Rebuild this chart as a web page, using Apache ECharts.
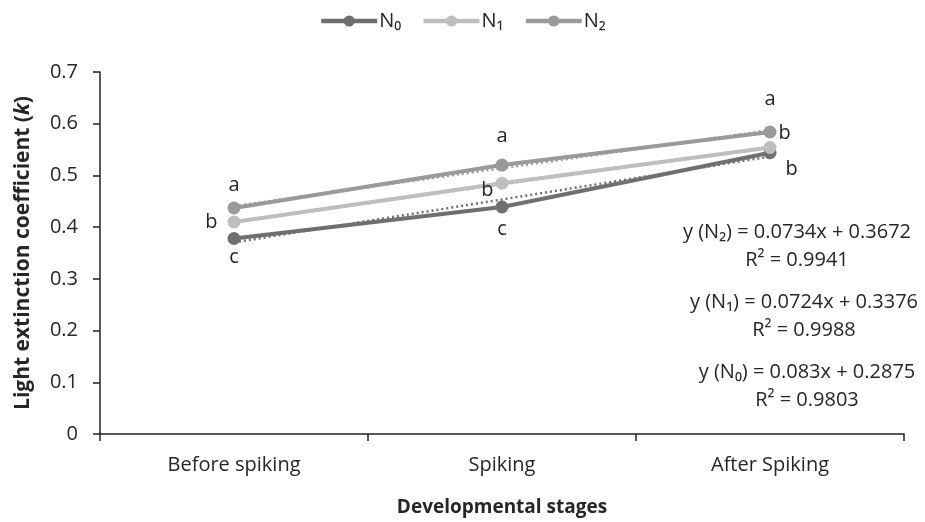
<!DOCTYPE html>
<html><head><meta charset="utf-8">
<script src="https://cdn.jsdelivr.net/npm/echarts@6/dist/echarts.min.js"></script>
<style>html,body{margin:0;padding:0;background:#fff}#c{width:925px;height:522px}</style>
</head><body><div id="c"></div>
<script>
const categories = ['Before spiking', 'Spiking', 'After Spiking'];
const seriesNames = ['N\u2080', 'N\u2081', 'N\u2082'];
const N0 = [0.378, 0.439, 0.544];
const N1 = [0.410, 0.485, 0.554];
const N2 = [0.437, 0.520, 0.584];
const trendN0 = [0.3705, 0.4535, 0.5365];
const trendN1 = [0.4100, 0.4824, 0.5548];
const trendN2 = [0.4406, 0.5140, 0.5874];
const lettersN0 = ['c', 'c', 'b'];
const lettersN1 = ['b', 'b', 'b'];
const lettersN2 = ['a', 'a', 'a'];
const yTicks = [0, 0.1, 0.2, 0.3, 0.4, 0.5, 0.6, 0.7];
const equations = [
  ['y (N\u2082) = 0.0734x + 0.3672', 'R\u00b2 = 0.9941'],
  ['y (N\u2081) = 0.0724x + 0.3376', 'R\u00b2 = 0.9988'],
  ['y (N\u2080) = 0.083x + 0.2875', 'R\u00b2 = 0.9803']
];

const colors = ['#6f6f71', '#bebec0', '#9a9a9c'];
const FONT = 'Open Sans';
const txt = '#262626';
const FS = 20;

const chart = echarts.init(document.getElementById('c'));

function labeled(vals, letters, cfg) {
  return vals.map((v, i) => ({
    value: v,
    label: Object.assign({ show: true, formatter: letters[i], fontSize: FS, color: txt, fontFamily: FONT }, cfg[i])
  }));
}

const n0Cfg = [{position: 'bottom', distance: 2}, {position: 'bottom', distance: 6}, {position: 'right', offset: [4, 17]}];
const n1Cfg = [{position: 'left', distance: 10}, {position: 'left', offset: [0, 7], distance: 2}, {position: 'right', offset: [-2, -14], distance: 4}];
const n2Cfg = [{position: 'top', distance: 6}, {position: 'top', distance: 12}, {position: 'top', distance: 16}];

function lineSeries(name, vals, letters, cfg, color, z) {
  return {
    name: name, type: 'line', data: labeled(vals, letters, cfg), z: z,
    symbol: 'circle', symbolSize: 13,
    lineStyle: { color: color, width: 4 },
    itemStyle: { color: color },
    emphasis: { disabled: true }, animation: false
  };
}
function trendSeries(vals, color) {
  return {
    type: 'line', data: vals, symbol: 'none', z: 1,
    lineStyle: { color: color, width: 2.5, type: [2, 3] },
    emphasis: { disabled: true }, animation: false, silent: true
  };
}

const graphics = [];
const eqY = [232, 302, 372];
const eqX = [797, 804, 807];
equations.forEach((eq, k) => {
  graphics.push({ type: 'text', x: eqX[k], y: eqY[k], style: { text: eq[0], font: FS + 'px "' + FONT + '"', fill: txt, align: 'center', verticalAlign: 'middle' } });
  graphics.push({ type: 'text', x: eqX[k], y: eqY[k] + 28, style: { text: eq[1], font: FS + 'px "' + FONT + '"', fill: txt, align: 'center', verticalAlign: 'middle' } });
});

chart.setOption({
  animation: false,
  textStyle: { fontFamily: FONT },
  legend: {
    top: 6, left: 314, itemWidth: 56, itemHeight: 14, itemGap: 20,
    data: seriesNames,
    lineStyle: { width: 4.5 },
    textStyle: { fontSize: FS, color: txt, fontFamily: FONT, padding: [0, 0, 0, -3] }
  },
  grid: { left: 100, right: 21, top: 72, bottom: 83 },
  xAxis: {
    type: 'category', data: categories, boundaryGap: true,
    axisLine: { lineStyle: { color: '#222', width: 1.5 } },
    axisTick: { show: true, length: 7, lineStyle: { color: '#222', width: 1.5 } },
    axisLabel: { fontSize: FS, color: txt, margin: 21, fontFamily: FONT },
    name: 'Developmental stages', nameLocation: 'middle', nameGap: 64,
    nameTextStyle: { fontSize: 19, fontWeight: 'bold', color: txt, fontFamily: FONT }
  },
  yAxis: {
    type: 'value', min: 0, max: 0.7, interval: 0.1,
    axisLine: { show: true, lineStyle: { color: '#222', width: 1.5 } },
    axisTick: { show: true, length: 7, lineStyle: { color: '#222', width: 1.5 } },
    splitLine: { show: false },
    axisLabel: { fontSize: FS, color: txt, margin: 22, fontFamily: FONT,
      formatter: v => { const t = yTicks.find(x => Math.abs(x - v) < 1e-9); return t === undefined ? '' : String(t); } },
    name: '{b|Light extinction coefficient (}{i|k}{b|)}', nameLocation: 'middle', nameGap: 66,
    nameTextStyle: { rich: {
      b: { fontSize: 21, fontWeight: 'bold', color: txt, fontFamily: FONT },
      i: { fontSize: 21, fontWeight: 'bold', fontStyle: 'italic', color: txt, fontFamily: FONT }
    } }
  },
  graphic: graphics,
  series: [
    trendSeries(trendN0, colors[0]),
    trendSeries(trendN1, colors[1]),
    trendSeries(trendN2, colors[2]),
    lineSeries(seriesNames[0], N0, lettersN0, n0Cfg, colors[0], 3),
    lineSeries(seriesNames[1], N1, lettersN1, n1Cfg, colors[1], 4),
    lineSeries(seriesNames[2], N2, lettersN2, n2Cfg, colors[2], 5)
  ]
});
</script></body></html>
